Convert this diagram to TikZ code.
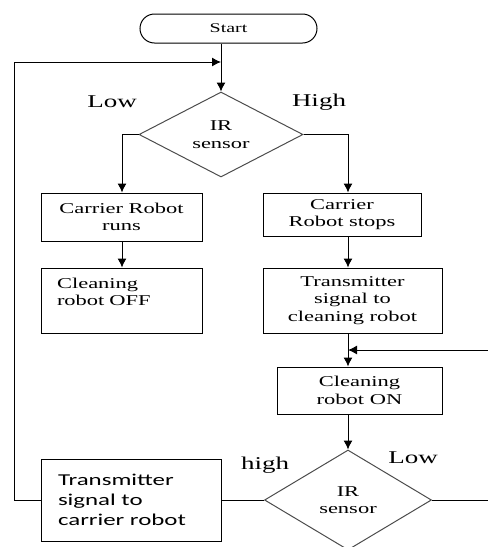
\documentclass[tikz,border=0pt]{standalone}
\usepackage{fontspec}
\setmainfont{Liberation Serif}[FakeStretch=1.5]
\newfontfamily\calib{Carlito}[FakeStretch=1.5]
\usetikzlibrary{shapes.geometric,shapes.misc,arrows.meta}
\newcommand{\irs}{IR\\sensor}

\begin{document}
\begin{tikzpicture}[x=1pt,y=-1pt,line width=1pt,
  box/.style={draw,rectangle,inner sep=0pt,align=center,font=\fontsize{15}{17.5}\selectfont},
  lbox/.style={box,align=left,inner xsep=16pt},
  dec/.style={draw=black!70,diamond,inner sep=0pt,align=center,font=\fontsize{15}{17.5}\selectfont},
  lbl/.style={font=\fontsize{18}{20}\selectfont},
  arr/.style={-{Latex[length=9pt,width=9pt]}}]

\useasboundingbox (0,0) rectangle (488,547);

% nodes
\node[draw,rounded rectangle,minimum width=177pt,minimum height=29pt,inner sep=0pt,font=\fontsize{13.3}{15}\selectfont] (start) at (228.5,28.5) {Start};
\node[dec,minimum width=164pt,minimum height=85pt] (d1) at (221,134.5) {\irs};
\node[box,minimum width=161pt,minimum height=48pt] (b1) at (121.5,217) {Carrier Robot\\runs};
\node[lbox,text width=129pt,minimum height=65pt] (b2) at (121.5,300.5) {Cleaning\\robot OFF\\\mbox{}};
\node[box,minimum width=158pt,minimum height=43pt] (b3) at (342,214.5) {Carrier\\Robot stops};
\node[box,minimum width=179pt,minimum height=65pt] (b4) at (352.5,300.5) {Transmitter\\signal to\\cleaning robot};
\node[box,minimum width=165pt,minimum height=47pt] (b5) at (359.5,390.5) {Cleaning\\robot ON};
\node[dec,minimum width=167pt,minimum height=100pt] (d2) at (348,500) {\irs};
\node[lbox,inner xsep=17pt,text width=146pt,minimum height=82pt,font=\calib\fontsize{16.6}{20}\selectfont] (b6) at (131,500) {Transmitter\\signal to\\carrier robot};

\node[lbl] (lowA) at (112,102) {Low};
\node[lbl] (highA) at (319,102) {High};
\node[lbl] (highB) at (265,465) {high};
\node[lbl] (lowB) at (413,458) {Low};

\coordinate (lx) at (122,0);
\coordinate (rx) at (348,0);
\coordinate (loopL) at (14,62);
\coordinate (join) at (221,62);
\coordinate (loopR) at (492,350);
\coordinate (join2) at (348,350);

% connectors
\draw (start.south -| join) -- (join);
\draw[arr] (join) -- (d1.north);
\draw[arr] (b6.west) -| (loopL) -- (join);
\draw[arr] (d1.west) -| (b1.north -| lx);
\draw[arr] (d1.east) -| (b3.north -| rx);
\draw[arr] (b1.south -| lx) -- (b2.north -| lx);
\draw[arr] (b3.south -| rx) -- (b4.north -| rx);
\draw (b4.south -| rx) -- (join2);
\draw[arr] (join2) -- (b5.north -| rx);
\draw[arr] (b5.south -| rx) -- (d2.north);
\draw[arr] (d2.east) -| (loopR) -- (join2);
\draw (d2.west) -- (b6.east);
\end{tikzpicture}
\end{document}
